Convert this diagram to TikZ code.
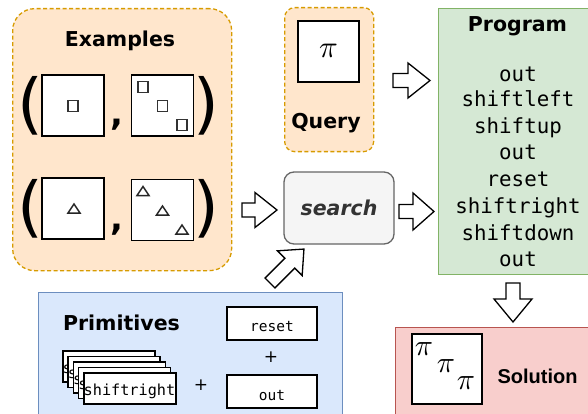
\documentclass[tikz,border=0pt]{standalone}
\usepackage{fontspec}
\setmainfont{DejaVu Sans}
\setmonofont{DejaVu Sans Mono}
\newfontfamily\libsans{Liberation Sans}
\definecolor{orF}{HTML}{FFE6CC}\definecolor{orB}{HTML}{D79B00}
\definecolor{grF}{HTML}{D5E8D4}\definecolor{grB}{HTML}{82B366}
\definecolor{blF}{HTML}{DAE8FC}\definecolor{blB}{HTML}{6C8EBF}
\definecolor{rdF}{HTML}{F8CECC}\definecolor{rdB}{HTML}{B85450}
\definecolor{gyF}{HTML}{F5F5F5}\definecolor{gyB}{HTML}{666666}
\definecolor{txG}{HTML}{333333}
\begin{document}
\begin{tikzpicture}[x=1pt,y=-1pt,
  dashbox/.style={draw=orB, fill=orF, line width=1.3pt, dash pattern=on 4pt off 2.5pt, rounded corners=#1, anchor=north west, inner sep=0pt},
  plainbox/.style={line width=1.3pt, anchor=north west, inner sep=0pt},
  title/.style={font=\fontsize{20.5}{24}\selectfont\bfseries, anchor=base, inner sep=0pt},
  code/.style={font=\ttfamily\fontsize{20.8}{24}\selectfont, anchor=base, inner sep=0pt},
  smallcode/.style={font=\ttfamily\fontsize{14.5}{16}\selectfont, anchor=base, inner sep=0pt},
  paren/.style={font=\fontsize{66}{66}\selectfont, inner sep=0pt},
  comma/.style={font=\fontsize{34}{34}\selectfont\bfseries, inner sep=0pt},
  imgsq/.style={draw, fill=white, line width=1.5pt, minimum width=62pt, minimum height=61pt, inner sep=0pt},
  smsq/.style={draw=black!80, line width=1.2pt, minimum width=10pt, minimum height=11pt, inner sep=0pt},
  primbox/.style={draw, fill=white, line width=1.5pt, minimum width=90pt, minimum height=33pt, inner sep=0pt},
  stackbox/.style={draw, fill=white, line width=1.5pt, minimum width=92pt, minimum height=31pt, inner sep=0pt, anchor=north west},
  pisym/.style={inner sep=0pt},
  tri/.pic={\draw[line width=1.5pt, line join=miter, draw=black!85] (-6,4.5) -- (0,-4.5) -- (6,4.5) -- cycle;},
  barrow/.pic={\draw[line width=1.3pt, fill=white, line join=miter] (0,-7) -- (\hs,-7) -- (\hs,-\hw) -- (\al,0) -- (\hs,\hw) -- (\hs,7) -- (0,7) -- cycle;}
]
\useasboundingbox (0,0) rectangle (588,414);
\clip (0,0) rectangle (588,414);

% ---------- Examples ----------
\node[dashbox=22pt, minimum width=219pt, minimum height=262pt] (examples) at (12,8) {};
\node[title] (extitle) at (120,46.7) {Examples};
\node[paren] (p1l) at (30,106) {(};
\node[paren] (p1r) at (206.5,106) {)};
\node[paren] (p2l) at (30,208.5) {(};
\node[paren] (p2r) at (206.5,208.5) {)};
\node[comma] (c1) at (117,125) {,};
\node[comma] (c2) at (117,230) {,};
\node[imgsq] (e1a) at (73,105.5) {};
\node[imgsq] (e1b) at (162.5,105.5) {};
\node[imgsq] (e2a) at (73,208.5) {};
\node[imgsq] (e2b) at (162.5,210) {};
\node[smsq] (s0) at (73,106) {};
\node[smsq] (s1) at (143,87) {};
\node[smsq] (s2) at (162.5,106) {};
\node[smsq] (s3) at (182,125) {};
\pic (t0) at (74,208.5) {tri};
\pic (t1) at (143,191) {tri};
\pic (t2) at (162.5,210.5) {tri};
\pic (t3) at (182,229.5) {tri};

% ---------- Query ----------
\node[dashbox=10pt, minimum width=89pt, minimum height=144pt] (query) at (284,7) {};
\node[imgsq, minimum width=61pt] (qsq) at (328.5,51.5) {};
\node[pisym] (qpi) at (328.5,51) {\scalebox{3.1}{$\pi$}};
\node[title] (qtitle) at (326,128.3) {Query};

% ---------- search ----------
\node[draw=gyB, fill=gyF, line width=1.3pt, rounded corners=10pt, minimum width=110pt, minimum height=72pt, inner sep=0pt,
      font=\fontsize{20.5}{24}\selectfont\bfseries\itshape, text=txG] (search) at (339,208) {search};

% ---------- Program ----------
\node[plainbox, draw=grB, fill=grF, minimum width=162pt, minimum height=266pt] (program) at (438,8) {};
\node[title] (ptitle) at (517.5,31.5) {Program};
\node[code] (l1) at (518,81.7) {out};
\node[code] (l2) at (518,106.7) {shiftleft};
\node[code] (l3) at (518,133.3) {shiftup};
\node[code] (l4) at (518,160) {out};
\node[code] (l5) at (518,186.7) {reset};
\node[code] (l6) at (518,213.3) {shiftright};
\node[code] (l7) at (518,240) {shiftdown};
\node[code] (l8) at (518,266.7) {out};

% ---------- Primitives ----------
\node[plainbox, draw=blB, fill=blF, minimum width=304pt, minimum height=130pt] (prim) at (38,292) {};
\node[title] (prtitle) at (121.5,330) {Primitives};
\foreach \i in {0,...,4}{
  \node[stackbox] (st\i) at ({62+5.25*\i},{350+5.5*\i}) {};
  \node[smallcode, font=\ttfamily\fontsize{15.2}{16}\selectfont] (stt\i) at ({62+5.25*\i+46.5},{350+5.5*\i+23}) {shiftright};
}
\node[primbox] (reset) at (272,323.5) {};
\node[smallcode] (resett) at (272,331.7) {reset};
\node[primbox] (out) at (272,391.5) {};
\node[smallcode] (outt) at (272,400) {out};
\node[font=\fontsize{17}{17}\selectfont, inner sep=0pt] (plus1) at (271,357) {+};
\node[font=\fontsize{17}{17}\selectfont, inner sep=0pt] (plus2) at (201,385) {+};

% ---------- Solution ----------
\node[plainbox, draw=rdB, fill=rdF, minimum width=205pt, minimum height=93pt] (solution) at (395,327) {};
\node[draw, fill=white, line width=1.5pt, minimum width=70pt, minimum height=70pt, inner sep=0pt] (ssq) at (447,369) {};
\node[pisym] (sp1) at (424,349) {\scalebox{3}{$\pi$}};
\node[pisym] (sp2) at (446,366) {\scalebox{3}{$\pi$}};
\node[pisym] (sp3) at (466,383) {\scalebox{3}{$\pi$}};
\node[font=\libsans\fontsize{20}{24}\selectfont\bfseries, anchor=base, inner sep=0pt] (soltitle) at (537.5,383) {Solution};

% ---------- block arrows ----------
\def\hs{13}\def\hw{17.5}\def\al{35}
\pic (a1) at (242,210) {barrow};
\def\hs{15}\def\hw{17.5}\def\al{37}
\pic (a2) at (393,80.5) {barrow};
\def\hs{14}\def\hw{18.5}\def\al{35}
\pic (a3) at (399,211.5) {barrow};
\def\hs{28}\def\hw{17.5}\def\al{48}
\pic[rotate=45] (a4) at (270,283) {barrow};
\def\hs{16}\def\hw{19}\def\al{39}
\pic[rotate=-90] (a5) at (513,283) {barrow};
\end{tikzpicture}
\end{document}
